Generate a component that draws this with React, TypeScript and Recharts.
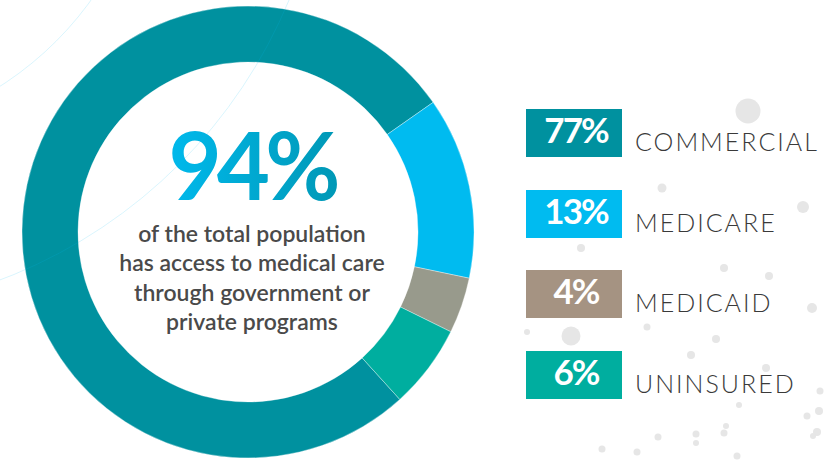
import { Cell, Label, Legend, Pie, PieChart } from "recharts";

const CATEGORIES = ["COMMERCIAL", "MEDICARE", "MEDICAID", "UNINSURED"];
const SHARES = [77, 13, 4, 6];
const SLICE_COLORS = ["#00919f", "#00bbf0", "#989a8c", "#00ae9f"];
const BOX_COLORS = ["#00919f", "#00bbf0", "#a59382", "#00ae9f"];

const HEADLINE = "94%";
const CAPTION = [
  "of the total population",
  "has access to medical care",
  "through government or",
  "private programs",
];

// background decoration only (not data)
const BG_DOTS: [number, number, number][] = [
  [748, 111, 12.5], [662, 188, 4.5], [803, 207, 6], [581, 248, 4],
  [724, 268, 4], [769, 276, 4], [812, 308, 5], [527, 332, 3],
  [571, 336, 9.5], [647, 327, 3.5], [716, 339, 4], [691, 355, 4],
  [766, 368, 4], [820, 391, 3.5], [739, 405, 3], [807, 416, 3.5],
  [819, 411, 4], [726, 426, 3], [724, 433, 3.5], [696, 434, 3.5],
  [696, 443, 3], [658, 437, 3.5], [817, 432, 4], [813, 436, 3],
  [602, 449, 3.5], [637, 452, 3.5], [737, 456, 3.5],
];

const data = CATEGORIES.map((name, i) => ({ name, value: SHARES[i] }));

const font = "Lato, 'Open Sans', sans-serif";

function CenterText({ viewBox }: any) {
  const cx = (viewBox?.cx ?? 248) + 4;
  const cy = viewBox?.cy ?? 232;
  return (
    <g>
      <defs>
        <linearGradient id="headline-fill" x1="0" y1="0" x2="1" y2="0">
          <stop offset="0%" stopColor="#00b9ec" />
          <stop offset="100%" stopColor="#0098b6" />
        </linearGradient>
      </defs>
      <text
        x={cx}
        y={cy - 32}
        textAnchor="middle"
        fill="url(#headline-fill)"
        fontFamily={font}
        fontWeight={700}
        fontSize={94}
        letterSpacing={-5}
        textLength={167}
        lengthAdjust="spacingAndGlyphs"
      >
        {HEADLINE}
      </text>
      {CAPTION.map((line, i) => (
        <text
          key={line}
          x={cx}
          y={cy + 10 + i * 29.4}
          textAnchor="middle"
          fill="#4a4a4a"
          fontFamily={font}
          fontWeight={600}
          fontSize={23}
        >
          {line}
        </text>
      ))}
    </g>
  );
}

function LegendList() {
  return (
    <div style={{ fontFamily: font }}>
      {CATEGORIES.map((name, i) => (
        <div
          key={name}
          style={{
            display: "flex",
            alignItems: "center",
            height: 48,
            marginBottom: 32.5,
          }}
        >
          <div
            style={{
              width: 96,
              height: 48,
              background: BOX_COLORS[i],
              color: "#fff",
              fontSize: 35,
              fontWeight: 700,
              letterSpacing: -2,
              lineHeight: "41px",
              textAlign: "center",
              paddingLeft: 4,
              boxSizing: "border-box",
            }}
          >
            {SHARES[i]}%
          </div>
          <div
            style={{
              marginLeft: 13,
              marginTop: 16,
              fontSize: 25,
              fontWeight: 300,
              letterSpacing: 2,
              color: "#3a3a3a",
            }}
          >
            {name}
          </div>
        </div>
      ))}
    </div>
  );
}

export default function App() {
  return (
    <div
      style={{
        position: "absolute",
        left: 0,
        top: 0,
        width: 836,
        height: 460,
        overflow: "hidden",
        background: "#fff",
      }}
    >
      <svg
        width={836}
        height={460}
        style={{ position: "absolute", left: 0, top: 0 }}
      >
        {BG_DOTS.map(([x, y, r], i) => (
          <circle key={i} cx={x} cy={y} r={r} fill="#e6e6e6" />
        ))}
      </svg>
      <div style={{ position: "absolute", left: 0, top: 0 }}>
        <PieChart
          width={836}
          height={460}
          margin={{ top: 0, right: 0, bottom: 0, left: 0 }}
        >
          <Pie
            data={data}
            dataKey="value"
            nameKey="name"
            cx={248}
            cy={232}
            innerRadius={170}
            outerRadius={226}
            startAngle={312.2}
            endAngle={-47.8}
            stroke="rgba(255,255,255,0.35)"
            strokeWidth={1}
            isAnimationActive={false}
          >
            {data.map((d, i) => (
              <Cell key={d.name} fill={SLICE_COLORS[i]} />
            ))}
            <Label position="center" content={<CenterText />} />
          </Pie>
          <Legend
            layout="vertical"
            align="right"
            verticalAlign="top"
            content={<LegendList />}
            wrapperStyle={{ left: 526, top: 109, width: 300 }}
          />
        </PieChart>
      </div>
      <svg
        width={836}
        height={460}
        style={{ position: "absolute", left: 0, top: 0, pointerEvents: "none" }}
      >
        <circle
          cx={-180}
          cy={-195}
          r={334}
          fill="none"
          stroke="#00bbf0"
          strokeOpacity={0.15}
        />
        <circle
          cx={-180}
          cy={-195}
          r={508}
          fill="none"
          stroke="#00bbf0"
          strokeOpacity={0.15}
        />
      </svg>
    </div>
  );
}
